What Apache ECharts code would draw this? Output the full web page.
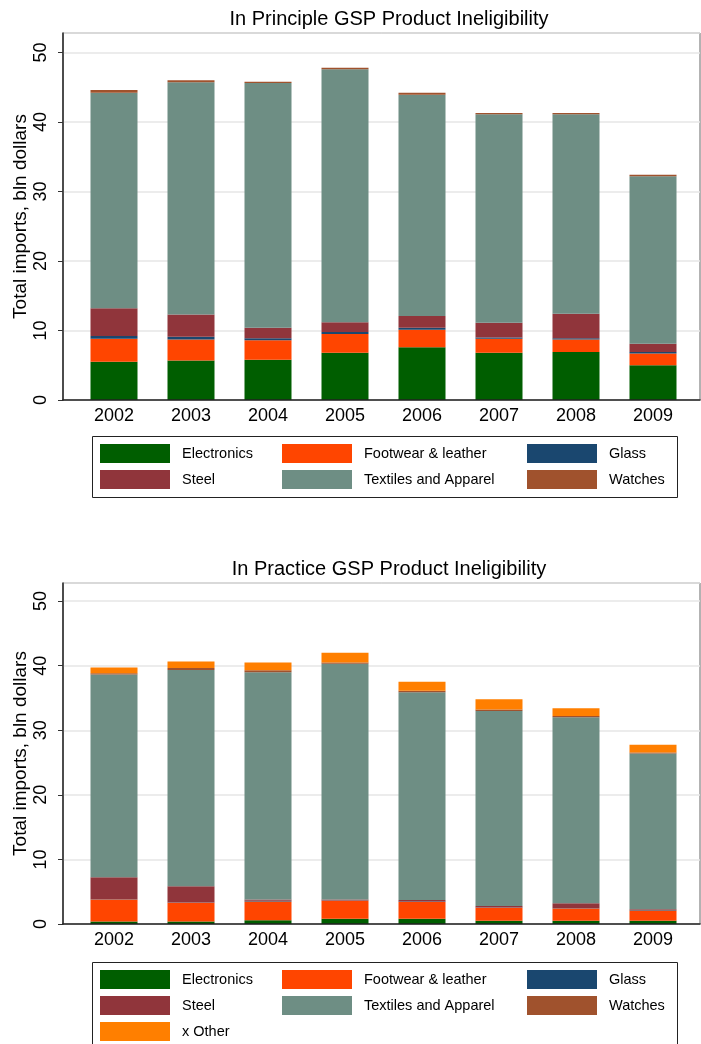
<!DOCTYPE html>
<html>
<head>
<meta charset="utf-8">
<script src="https://cdn.jsdelivr.net/npm/echarts@6/dist/echarts.min.js"></script>
<style>
  html, body { margin: 0; padding: 0; background: #fff; }
  #chart { width: 701px; height: 1044px; }
</style>
</head>
<body>
<div id="chart"></div>
<script>
// Years on the category axis
const years = ['2002', '2003', '2004', '2005', '2006', '2007', '2008', '2009'];
const yTicks = [0, 10, 20, 30, 40, 50];

// In principle ineligible imports, bln dollars
const principleElectronics = [5.5, 5.7, 5.8, 6.8, 7.6, 6.8, 6.9, 5.0];
const principleFootwear    = [3.3, 3.0, 2.8, 2.7, 2.5, 2.0, 1.8, 1.7];
const principleGlass       = [0.4, 0.4, 0.3, 0.3, 0.3, 0.2, 0.2, 0.2];
const principleSteel       = [4.0, 3.2, 1.5, 1.4, 1.7, 2.1, 3.5, 1.2];
const principleTextiles    = [31.0, 33.4, 35.2, 36.4, 31.8, 30.0, 28.7, 24.1];
const principleWatches     = [0.4, 0.3, 0.2, 0.2, 0.3, 0.2, 0.2, 0.2];

// In practice ineligible imports, bln dollars
const practiceElectronics = [0.4, 0.4, 0.6, 0.8, 0.8, 0.5, 0.5, 0.5];
const practiceFootwear    = [3.4, 2.9, 2.9, 2.8, 2.6, 2.0, 1.9, 1.6];
const practiceGlass       = [0.03, 0.03, 0.1, 0.05, 0.1, 0.05, 0.05, 0.05];
const practiceSteel       = [3.4, 2.5, 0.2, 0.15, 0.2, 0.25, 0.75, 0.15];
const practiceTextiles    = [31.4, 33.5, 35.2, 36.5, 32.2, 30.2, 28.8, 24.1];
const practiceWatches     = [0.2, 0.3, 0.3, 0.2, 0.2, 0.2, 0.2, 0.15];
const practiceOther       = [0.9, 1.0, 1.2, 1.5, 1.4, 1.6, 1.2, 1.2];

const colors = {
  'Electronics': '#005e00',
  'Footwear & leather': '#ff4500',
  'Glass': '#1a476f',
  'Steel': '#90353b',
  'Textiles and Apparel': '#6e8e84',
  'Watches': '#a0522d',
  'x Other': '#ff7f00'
};

const FONT = 'Liberation Sans, Arial, sans-serif';
const Y_MAX = 52.8;

// two panels: frame grid (axes + gridlines) and bar grid (categories)
const panels = [
  { title: 'In Principle GSP Product Ineligibility', top: 33, height: 367,
    series: [
      ['Electronics', principleElectronics],
      ['Footwear & leather', principleFootwear],
      ['Glass', principleGlass],
      ['Steel', principleSteel],
      ['Textiles and Apparel', principleTextiles],
      ['Watches', principleWatches]
    ],
    legendCols: [['Electronics', 'Steel'], ['Footwear & leather', 'Textiles and Apparel'], ['Glass', 'Watches']],
    legendTop: 444, boxTop: 436, boxHeight: 61 },
  { title: 'In Practice GSP Product Ineligibility', top: 583, height: 341,
    series: [
      ['Electronics', practiceElectronics],
      ['Footwear & leather', practiceFootwear],
      ['Glass', practiceGlass],
      ['Steel', practiceSteel],
      ['Textiles and Apparel', practiceTextiles],
      ['Watches', practiceWatches],
      ['x Other', practiceOther]
    ],
    legendCols: [['Electronics', 'Steel', 'x Other'], ['Footwear & leather', 'Textiles and Apparel'], ['Glass', 'Watches']],
    legendTop: 970, boxTop: 962, boxHeight: 100 }
];

const grid = [], xAxis = [], yAxis = [], series = [], title = [], legend = [], graphic = [];
const legendLefts = [100, 282, 527];

panels.forEach((p, k) => {
  const frameIdx = grid.length;
  grid.push({ left: 63, top: p.top, width: 637, height: p.height,
              show: true, borderColor: '#666', borderWidth: 1 });
  const barIdx = grid.length;
  grid.push({ left: 75.5, top: p.top, width: 616, height: p.height });

  xAxis.push({ gridIndex: frameIdx, type: 'value', min: 0, max: 1, z: 5,
    axisLine: { show: true, lineStyle: { color: '#222', width: 1.6 } },
    axisTick: { show: false }, axisLabel: { show: false }, splitLine: { show: false } });
  yAxis.push({ gridIndex: frameIdx, type: 'value', min: 0, max: Y_MAX, interval: 10,
    name: 'Total imports, bln dollars', nameLocation: 'middle', nameGap: 33,
    nameMoveOverlap: false,
    nameTextStyle: { fontFamily: FONT, fontSize: 19, color: '#000' },
    axisLine: { show: true, lineStyle: { color: '#333', width: 1.6 } },
    axisTick: { show: true, length: 5, lineStyle: { color: '#333' } },
    axisLabel: { rotate: 90, margin: 13, fontFamily: FONT, fontSize: 18, color: '#000',
      showMaxLabel: false,
      formatter: v => (yTicks.indexOf(Math.round(v * 100) / 100) >= 0 ? String(v) : '') },
    splitLine: { show: true, lineStyle: { color: '#e6e6e6', width: 1.5 } } });

  xAxis.push({ gridIndex: barIdx, type: 'category', data: years,
    axisLine: { show: false }, axisTick: { show: false },
    axisLabel: { margin: 7, fontFamily: FONT, fontSize: 18, color: '#000' } });
  yAxis.push({ gridIndex: barIdx, type: 'value', min: 0, max: Y_MAX, show: false });

  p.series.forEach(([name, values]) => {
    series.push({ name, type: 'bar', stack: 'panel' + k, data: values,
      xAxisIndex: xAxis.length - 1, yAxisIndex: yAxis.length - 1,
      barWidth: 47, itemStyle: { color: colors[name] }, emphasis: { disabled: true } });
  });

  title.push({ text: p.title, left: 384, top: p.top - 29, textAlign: 'center',
    textStyle: { fontFamily: FONT, fontSize: 20, fontWeight: 'normal', color: '#000' } });

  p.legendCols.forEach((col, c) => {
    legend.push({ orient: 'vertical', left: legendLefts[c], top: p.legendTop, data: col,
      icon: 'rect', itemWidth: 70, itemHeight: 19, itemGap: 7, padding: 0,
      selectedMode: false,
      textStyle: { fontFamily: FONT, fontSize: 14.5, color: '#000', padding: [0, 0, 0, 7] } });
  });

  graphic.push({ type: 'rect', silent: true, z: -1,
    shape: { x: 92.5, y: p.boxTop + 0.5, width: 585, height: p.boxHeight },
    style: { fill: '#fff', stroke: '#222', lineWidth: 1 } });
});

const chart = echarts.init(document.getElementById('chart'), null, { renderer: 'canvas' });
chart.setOption({ animation: false, backgroundColor: '#fff',
  title, grid, xAxis, yAxis, series, legend, graphic });
</script>
</body>
</html>
